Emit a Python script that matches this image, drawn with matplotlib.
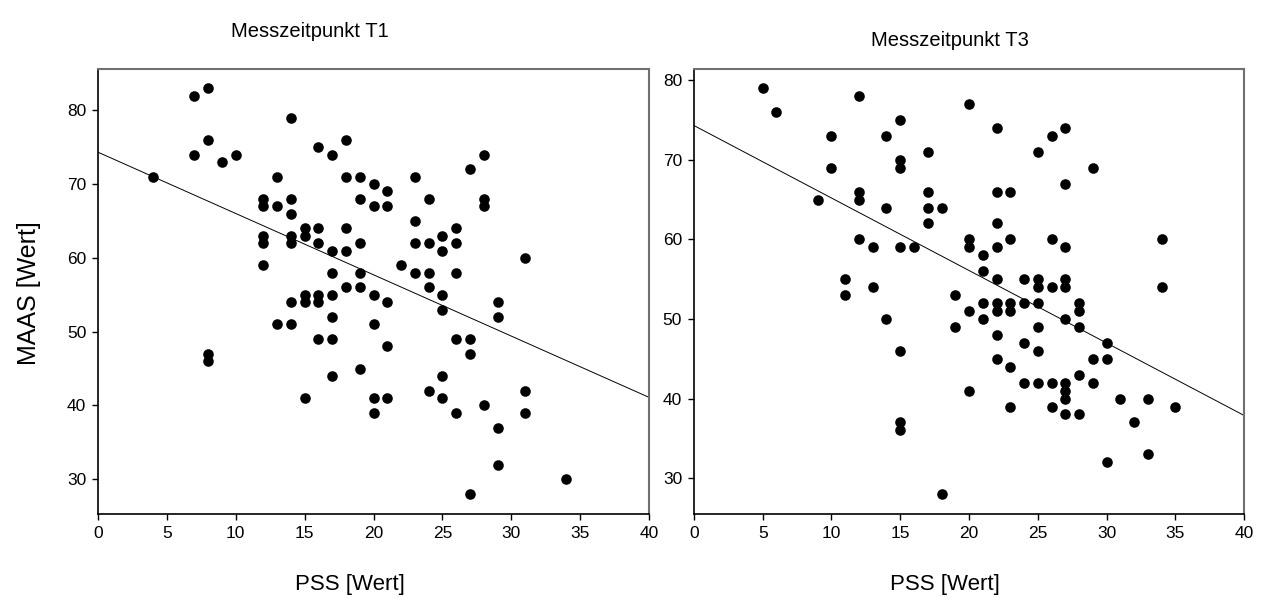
import matplotlib
matplotlib.use("Agg")
import matplotlib.pyplot as plt
import numpy as np

plt.rcParams['font.family'] = ['Liberation Sans', 'DejaVu Sans']

# Messzeitpunkt T1  (PSS -> MAAS)
t1_pss = [4, 7, 7, 8, 8, 8, 8, 9, 10,
          12, 12, 12, 12, 12, 13, 13, 13,
          14, 14, 14, 14, 14, 14, 14,
          15, 15, 15, 15, 15,
          16, 16, 16, 16, 16, 16,
          17, 17, 17, 17, 17, 17, 17,
          18, 18, 18, 18, 18,
          19, 19, 19, 19, 19, 19,
          20, 20, 20, 20, 20, 20,
          21, 21, 21, 21, 21,
          22,
          23, 23, 23, 23,
          24, 24, 24, 24, 24,
          25, 25, 25, 25, 25, 25,
          26, 26, 26, 26, 26,
          27, 27, 27, 27,
          28, 28, 28, 28,
          29, 29, 29, 29,
          31, 31, 31,
          34]
t1_maas = [71, 82, 74, 83, 76, 47, 46, 73, 74,
           68, 67, 63, 62, 59, 71, 67, 51,
           79, 68, 66, 63, 62, 54, 51,
           64, 63, 55, 54, 41,
           75, 64, 62, 55, 54, 49,
           74, 61, 58, 55, 52, 49, 44,
           76, 71, 64, 61, 56,
           71, 68, 62, 58, 56, 45,
           70, 67, 55, 51, 41, 39,
           69, 67, 54, 48, 41,
           59,
           71, 65, 62, 58,
           68, 62, 58, 56, 42,
           63, 61, 55, 53, 44, 41,
           64, 62, 58, 49, 39,
           72, 49, 47, 28,
           74, 68, 67, 40,
           54, 52, 37, 32,
           60, 42, 39,
           30]

# Messzeitpunkt T3
t3_pss = [5, 6, 9, 10, 10, 11, 11,
          12, 12, 12, 12, 13, 13,
          14, 14, 14,
          15, 15, 15, 15, 15, 15, 15,
          16, 17, 17, 17, 17, 18, 18, 19, 19,
          20, 20, 20, 20, 20,
          21, 21, 21, 21,
          22, 22, 22, 22, 22, 22, 22, 22, 22,
          23, 23, 23, 23, 23, 23,
          24, 24, 24, 24,
          25, 25, 25, 25, 25, 25, 25,
          26, 26, 26, 26, 26,
          27, 27, 27, 27, 27, 27, 27, 27, 27, 27,
          28, 28, 28, 28, 28,
          29, 29, 29,
          30, 30, 30,
          31, 32, 33, 33, 34, 34, 35]
t3_maas = [79, 76, 65, 73, 69, 55, 53,
           78, 66, 65, 60, 59, 54,
           73, 64, 50,
           75, 70, 69, 59, 46, 37, 36,
           59, 71, 66, 64, 62, 64, 28, 53, 49,
           77, 60, 59, 51, 41,
           58, 56, 52, 50,
           74, 66, 62, 59, 55, 52, 51, 48, 45,
           66, 60, 52, 51, 44, 39,
           55, 52, 47, 42,
           71, 55, 54, 52, 49, 46, 42,
           73, 60, 54, 42, 39,
           74, 67, 59, 55, 54, 50, 42, 41, 40, 38,
           52, 51, 49, 43, 38,
           69, 45, 42,
           47, 45, 32,
           40, 37, 40, 33, 60, 54, 39]

x_ticks = [0, 5, 10, 15, 20, 25, 30, 35, 40]
panels = [
    ("Messzeitpunkt T1", t1_pss, t1_maas, [30, 40, 50, 60, 70, 80], (25.3, 85.6)),
    ("Messzeitpunkt T3", t3_pss, t3_maas, [30, 40, 50, 60, 70, 80], (25.5, 81.4)),
]
axes_pos = [[0.0773, 0.1448, 0.4346, 0.7404], [0.5473, 0.1448, 0.4338, 0.7404]]
title_pos = [(0.2445, 0.947), (0.749, 0.933)]
xlabel_pos = [(0.276, 0.027), (0.745, 0.027)]

fig = plt.figure(figsize=(12.68, 6.01), dpi=100)
for i, (title, xs, ys, yt, ylim) in enumerate(panels):
    ax = fig.add_axes(axes_pos[i])
    ax.scatter(xs, ys, s=58, color='black', zorder=3, linewidths=0)
    k, d = np.polyfit(xs, ys, 1)
    lx = np.array([0, 40])
    ax.plot(lx, k * lx + d, color='black', lw=0.7, zorder=2)
    ax.set_xlim(0, 40)
    ax.set_ylim(*ylim)
    ax.set_xticks(x_ticks)
    ax.set_yticks(yt)
    ax.tick_params(direction='out', length=4.5, width=1, labelsize=12.5, top=False, right=False, pad=4)
    for s in ['left', 'bottom']:
        ax.spines[s].set_linewidth(1.2)
        ax.spines[s].set_color('black')
    for s in ['top', 'right']:
        ax.spines[s].set_linewidth(1.5)
        ax.spines[s].set_color('#707070')
    fig.text(title_pos[i][0], title_pos[i][1], title, ha='center', va='center', fontsize=14.5)
    fig.text(xlabel_pos[i][0], xlabel_pos[i][1], "PSS [Wert]", ha='center', va='center', fontsize=16)

fig.text(0.023, 0.512, "MAAS [Wert]", rotation=90, ha='center', va='center', fontsize=18)

fig.savefig("out.png", dpi=100)
